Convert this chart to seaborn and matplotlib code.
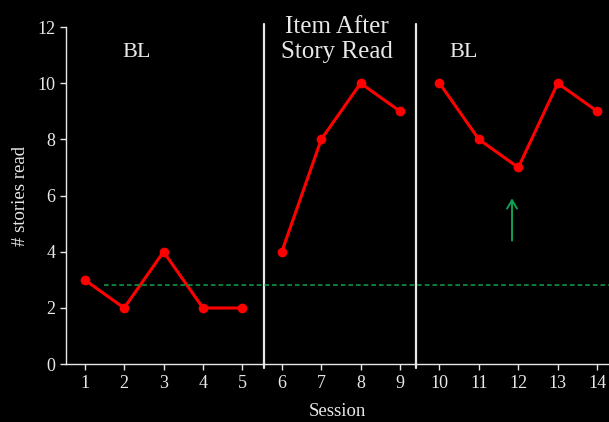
import numpy as np
import pandas as pd
import matplotlib
matplotlib.use('Agg')
import matplotlib.pyplot as plt
import seaborn as sns

# datos
sessions = list(range(1, 15))
stories = [3, 2, 4, 2, 2, 4, 8, 10, 9, 10, 8, 7, 10, 9]
phases = ['BL1'] * 5 + ['Item'] * 4 + ['BL2'] * 5
phase_labels = ['BL', 'Item After\nStory Read', 'BL']
phase_label_x = [2.32, 7.4, 10.6]
phase_label_y = [11.1, 11.55, 11.1]
phase_breaks = [5.55, 9.4]
baseline_level = 2.82

df = pd.DataFrame({'Session': sessions, 'stories': stories, 'phase': phases})

sns.set_theme(style='white')
plt.rcParams['font.family'] = ['Liberation Serif', 'DejaVu Serif']
fg = '#e8e8e8'
green = '#10a050'

fig = plt.figure(figsize=(6.09, 4.22), dpi=100, facecolor='black')
ax = fig.add_axes([0.108, 0.137, 0.892, 0.799])
ax.set_facecolor('black')

for ph in ['BL1', 'Item', 'BL2']:
    sub = df[df['phase'] == ph]
    sns.lineplot(data=sub, x='Session', y='stories', ax=ax, color='#ff0000',
                 marker='o', markersize=7, markeredgewidth=0, linewidth=2.2)

for xb in phase_breaks:
    ax.plot([xb, xb], [-0.14, 12.12], color=fg, linewidth=1.6, clip_on=False)

ax.plot([1.48, 14.4], [baseline_level, baseline_level], color=green,
        linestyle=(0, (3, 2)), linewidth=1.1, clip_on=False)
ax.annotate('', xy=(11.84, 6.0), xytext=(11.84, 4.3),
            arrowprops=dict(arrowstyle='->, head_width=0.3, head_length=0.5',
                            color=green, lw=1.4, mutation_scale=12))

for lab, xl, yl in zip(phase_labels, phase_label_x, phase_label_y):
    ax.text(xl, yl, lab, color=fg, fontsize=18 if '\n' in lab else 16,
            ha='center', va='center', linespacing=1.2)

ax.set_xlim(0.52, 14.3)
ax.set_ylim(0, 12)
ax.set_xticks(sessions)
ax.set_yticks(range(0, 13, 2))
ax.set_xlabel('Session', color=fg, fontsize=13.5, labelpad=8)
ax.set_ylabel('# stories read', color=fg, fontsize=13.5, labelpad=6)
ax.tick_params(colors=fg, labelsize=13, length=4, width=1, direction='out',
               bottom=True, left=True)
for s in ['top', 'right']:
    ax.spines[s].set_visible(False)
for s in ['left', 'bottom']:
    ax.spines[s].set_color(fg)
    ax.spines[s].set_linewidth(1)

fig.savefig('out.png', dpi=100, facecolor='black')
